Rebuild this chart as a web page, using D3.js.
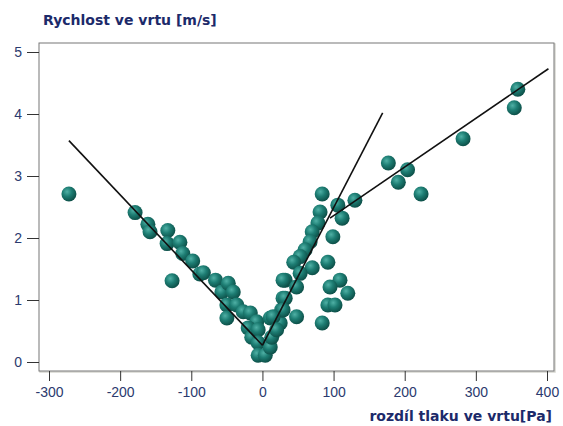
<!DOCTYPE html>
<html>
<head>
<meta charset="utf-8">
<script src="https://cdn.jsdelivr.net/npm/d3@7"></script>
<style>
  body { margin: 0; background: #fff; }
  svg { display: block; }
  .tick text { font-family: "Liberation Sans Narrow", "Arial Narrow", Arial, sans-serif; font-size: 14px; fill: #2b3a6e; }
  .title { font-family: "DejaVu Sans", Verdana, sans-serif; font-weight: bold; font-size: 14px; fill: #1c2a6a; }
</style>
</head>
<body>
<div id="chart"></div>
<script>
// rozdil tlaku [Pa] / rychlost [m/s]
const pressure = [
  -272, -179, -161, -158, -133, -134, -116, -127, -112, -98, -88, -83, -66, -57, -48, -41,
  -50, -36, -50, -27, -17, -8, -20, -15, -6, -6, -6, 4, 11, 13, 11, 25, 27, 29, 32,
  84, 106, 130, 81, 112, 78, 99, 70, 67, 60, 53, 44, 92, 70, 53, 29, 109, 95, 120, 48,
  32, 92, 102, 29, 48, 84, 15, 20,
  177, 191, 204, 223, 282, 354, 359
]
const velocity = [
  2.71, 2.41, 2.22, 2.10, 2.12, 1.91, 1.93, 1.31, 1.75, 1.63, 1.42, 1.44, 1.32, 1.13, 1.27, 1.13,
  0.92, 0.92, 0.71, 0.81, 0.79, 0.65, 0.55, 0.40, 0.52, 0.31, 0.11, 0.11, 0.24, 0.40, 0.71, 0.63, 0.84, 1.03, 1.32,
  2.71, 2.53, 2.61, 2.42, 2.32, 2.24, 2.02, 2.10, 1.94, 1.81, 1.70, 1.61, 1.61, 1.52, 1.43, 1.32, 1.32, 1.21, 1.11, 1.21,
  1.03, 0.92, 0.92, 0.84, 0.73, 0.63, 0.73, 0.52,
  3.21, 2.90, 3.10, 2.71, 3.60, 4.10, 4.40
]
// fitted lines
const fitLines = [
  [[-272, 3.57], [0, 0.27]],
  [[0, 0.27], [169, 4.02]],
  [[95, 2.32], [402, 4.73]]
]
const xTicks = [-300, -200, -100, 0, 100, 200, 300, 400]
const yTicks = [0, 1, 2, 3, 4, 5]

const width = 563, height = 426

const x = d3.scaleLinear().domain([-300, 400]).range([49, 547])
const y = d3.scaleLinear().domain([0, 5]).range([362, 52])

const frame = { left: 39, right: 554, top: 43, bottom: 371 }

const svg = d3.select("#chart").append("svg")
  .attr("width", width)
  .attr("height", height)

const defs = svg.append("defs")
const grad = defs.append("radialGradient")
  .attr("id", "ball")
  .attr("cx", "38%").attr("cy", "35%").attr("r", "70%")
grad.append("stop").attr("offset", "0%").attr("stop-color", "#4fb0a5")
grad.append("stop").attr("offset", "45%").attr("stop-color", "#1d7d73")
grad.append("stop").attr("offset", "100%").attr("stop-color", "#0b4a43")

// frame
svg.append("rect")
  .attr("x", frame.left + 1).attr("y", frame.top + 1)
  .attr("width", frame.right - frame.left).attr("height", frame.bottom - frame.top)
  .attr("fill", "none").attr("stroke", "#d6d6d0").attr("stroke-width", 1.5)
svg.append("rect")
  .attr("x", frame.left).attr("y", frame.top)
  .attr("width", frame.right - frame.left).attr("height", frame.bottom - frame.top)
  .attr("fill", "#fff").attr("stroke", "#777").attr("stroke-width", 1)

// axes
const fmt = d => String(d)
const xAxis = svg.append("g")
  .attr("transform", `translate(0, ${frame.bottom})`)
  .call(d3.axisBottom(x).tickValues(xTicks).tickSize(10).tickPadding(6).tickFormat(fmt))
xAxis.select(".domain").remove()
xAxis.selectAll(".tick line").attr("stroke", "#333")

const yAxis = svg.append("g")
  .attr("transform", `translate(${frame.left}, 0)`)
  .call(d3.axisLeft(y).tickValues(yTicks).tickSize(12).tickPadding(5).tickFormat(fmt))
yAxis.select(".domain").remove()
yAxis.selectAll(".tick line").attr("stroke", "#333")

// points
svg.append("g")
  .selectAll("circle")
  .data(pressure.map((p, i) => [p, velocity[i]]))
  .join("circle")
    .attr("cx", d => x(d[0]))
    .attr("cy", d => y(d[1]))
    .attr("r", 7.5)
    .attr("fill", "url(#ball)")

// regression lines
const line = d3.line().x(d => x(d[0])).y(d => y(d[1]))
svg.append("g")
  .selectAll("path")
  .data(fitLines)
  .join("path")
    .attr("d", line)
    .attr("fill", "none")
    .attr("stroke", "#111")
    .attr("stroke-width", 1.6)

// titles
svg.append("text").attr("class", "title")
  .attr("x", 43).attr("y", 25)
  .text("Rychlost ve vrtu [m/s]")

svg.append("text").attr("class", "title")
  .attr("x", 552).attr("y", 421)
  .attr("text-anchor", "end")
  .text("rozdíl tlaku ve vrtu[Pa]")
</script>
</body>
</html>
